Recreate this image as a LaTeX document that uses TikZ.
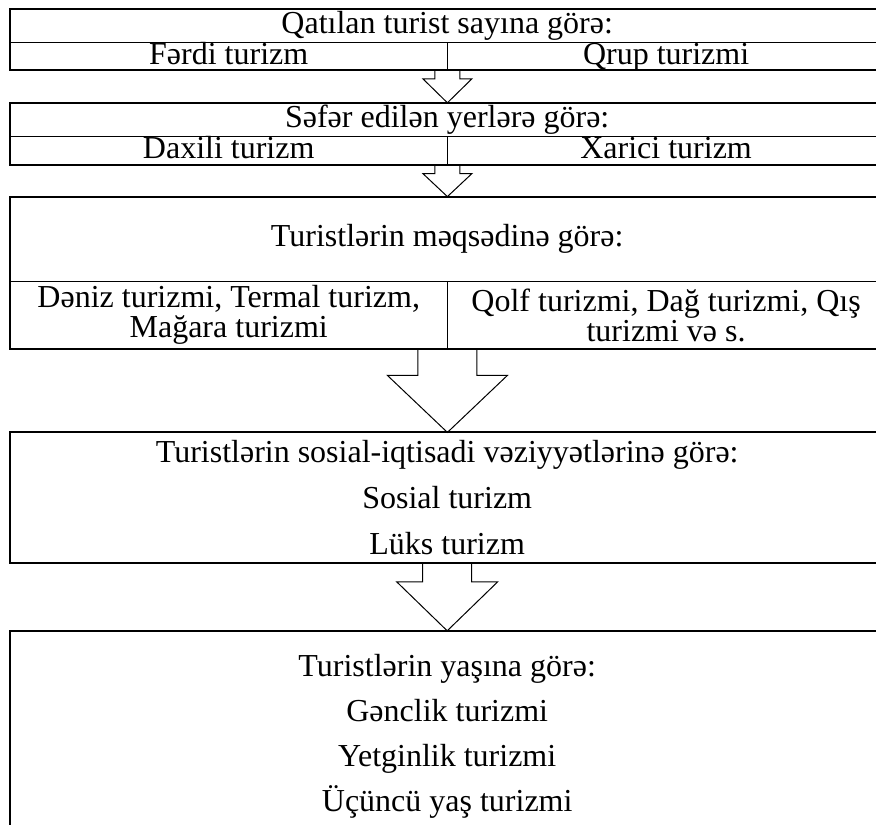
\documentclass[tikz,border=0pt]{standalone}
\usepackage{fontspec}
\setmainfont{Liberation Serif}
\usetikzlibrary{positioning, calc}

\tikzset{
  cell/.style={inner sep=0pt, text height=21pt, text depth=5pt, align=center,
               font=\fontsize{32}{30}\selectfont},
  tallcell/.style={inner sep=0pt, align=center},
  outer/.style={line width=2pt},
  inner/.style={line width=1pt},
  blockarrow/.style={line width=1pt, line join=miter},
}

% block arrow: from, tip, shaft half width, head half width, head length
\newcommand{\blockarr}[5]{%
  \draw[blockarrow] ($(#1)+(-#3,0)$) -- ($(#2)+(-#3,-#5)$) -- ($(#2)+(-#4,-#5)$) -- (#2)
    -- ($(#2)+(#4,-#5)$) -- ($(#2)+(#3,-#5)$) -- ($(#1)+(#3,0)$);
}

\begin{document}
\begin{tikzpicture}[x=1pt, y=-1pt]
  \useasboundingbox (0,0) rectangle (876,825);
  \clip (0,0) rectangle (876,825);

  %%% BOX 1 %%%
  \node[cell, minimum width=874pt, minimum height=33pt, anchor=north west] (q1) at (10,9) {Qatılan turist sayına görə:};
  \node[cell, minimum width=437pt, minimum height=27pt, anchor=north west] (f1) at (q1.south west) {Fərdi turizm};
  \node[cell, minimum width=437pt, minimum height=27pt, anchor=north west] (g1) at (f1.north east) {Qrup turizmi};

  %%% BOX 2 %%%
  \node[cell, minimum width=874pt, minimum height=33pt] (q2) [below right=33pt and 0pt of f1.south west] {Səfər edilən yerlərə görə:};
  \node[cell, minimum width=437pt, minimum height=28pt, anchor=north west] (f2) at (q2.south west) {Daxili turizm};
  \node[cell, minimum width=437pt, minimum height=28pt, anchor=north west] (g2) at (f2.north east) {Xarici turizm};

  %%% BOX 3 %%%
  \node[cell, minimum width=874pt, minimum height=84pt] (q3) [below right=32pt and 0pt of f2.south west] {Turistlərin məqsədinə görə:};
  \node[tallcell, font=\fontsize{32}{30}\selectfont, minimum width=437pt, minimum height=68pt, anchor=north west] (f3) at (q3.south west)
    {Dəniz turizmi, Termal turizm,\\ Mağara turizmi};
  \node[tallcell, font=\fontsize{32}{30}\selectfont, minimum width=437pt, minimum height=68pt, anchor=north west] (g3) at (f3.north east)
    {Qolf turizmi, Dağ turizmi, Qış\\ turizmi və s.};

  %%% BOX 4 %%%
  \node[tallcell, font=\fontsize{32}{46}\selectfont, minimum width=874pt, minimum height=130pt] (q4) [below right=83pt and 0pt of f3.south west]
    {Turistlərin sosial-iqtisadi vəziyyətlərinə görə:\\ Sosial turizm\\ Lüks turizm};

  %%% BOX 5 %%%
  \node[tallcell, font=\fontsize{32}{45}\selectfont, minimum width=874pt, minimum height=210pt] (q5) [below right=68pt and 0pt of q4.south west]
    {Turistlərin yaşına görə:\\ Gənclik turizmi\\ Yetginlik turizmi\\ Üçüncü yaş turizmi};

  %%% OXLAR %%%
  \coordinate (t1) at (f1.south east |- q2.north);
  \coordinate (t2) at (f2.south east |- q3.north);
  \coordinate (t3) at (f3.south east |- q4.north);
  \blockarr{f1.south east}{t1}{12.5}{24.5}{24}
  \blockarr{f2.south east}{t2}{12.5}{24.5}{23}
  \blockarr{f3.south east}{t3}{29.5}{60}{57}
  \blockarr{q4.south}{q5.north}{24.5}{50.5}{49}

  %%% XETLER %%%
  \foreach \n in {1,2,3} {
    \draw[outer] (q\n.north west) rectangle (g\n.south east);
    \draw[inner] (q\n.south west) -- (q\n.south east);
    \draw[inner] (f\n.north east) -- (f\n.south east);
  }
  \draw[outer] (q4.north west) rectangle (q4.south east);
  \draw[outer] (q5.north west) rectangle (q5.south east);
\end{tikzpicture}
\end{document}
